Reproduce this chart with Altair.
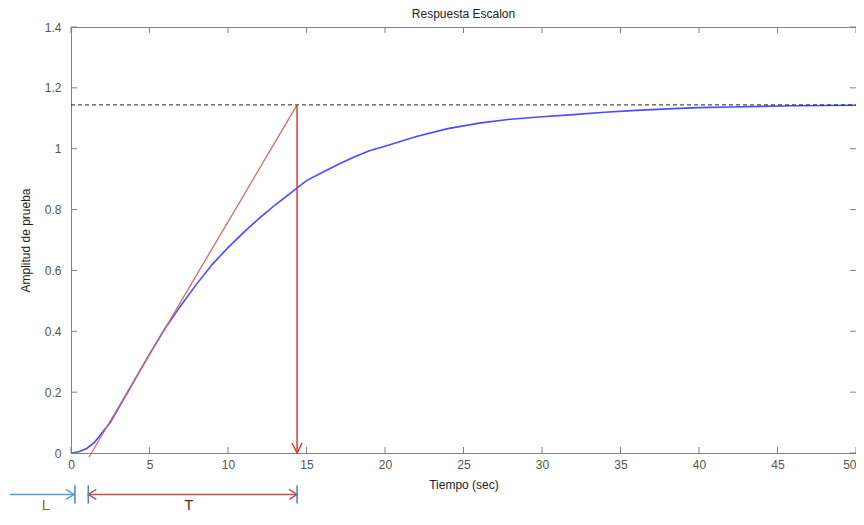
import altair as alt
import pandas as pd

# Step response
t = [0, 0.5, 1, 1.5, 2, 2.5, 3, 4, 5, 6, 7, 8, 9, 10, 11, 12, 13, 14, 15, 16,
     17, 18, 19, 20, 22, 24, 26, 28, 30, 32, 34, 36, 38, 40, 42, 44, 46, 48, 50]
amp = [0, 0.004, 0.015, 0.035, 0.068, 0.10, 0.145, 0.235, 0.325, 0.41, 0.485,
       0.555, 0.62, 0.675, 0.725, 0.772, 0.815, 0.855, 0.895, 0.922, 0.948,
       0.972, 0.993, 1.008, 1.04, 1.066, 1.084, 1.097, 1.105, 1.112, 1.12,
       1.126, 1.131, 1.135, 1.137, 1.139, 1.141, 1.142, 1.143]

steady = 1.144
tan_x = [1.15, 14.4]
tan_y = [-0.013, 1.144]
vert_x = 14.4

# annotation below the axis (data units)
ann_y = -0.136
L_x = [-3.9, 0.19]
T_x = [1.10, 14.4]
bar_x = [0.25, 1.10, 14.4]
bar_y = [-0.106, -0.166]
lab_text = ["L", "T"]
lab_x = [-1.6, 7.5]
lab_y = -0.172

x_ticks = list(range(0, 51, 5))
y_ticks = [0, 0.2, 0.4, 0.6, 0.8, 1.0, 1.2, 1.4]

W, H = 785, 426
FONT = "Liberation Sans"
xs = alt.Scale(domain=[0, 50], nice=False, zero=False)
ys = alt.Scale(domain=[0, 1.4], nice=False, zero=False)
xax = alt.Axis(values=x_ticks, title="Tiempo (sec)", labelPadding=6, titlePadding=9,
               labelAlign={"condition": {"test": "datum.value == 50", "value": "right"},
                           "value": "center"})
yax = alt.Axis(values=y_ticks, format="~g", title="Amplitud de prueba",
               labelPadding=10, titlePadding=12)


def X(f):
    return alt.X(f, scale=xs, axis=xax)


def Y(f):
    return alt.Y(f, scale=ys, axis=yax)


curve = alt.Chart(pd.DataFrame({"t": t, "a": amp})).mark_line(
    color="#4b4bff", strokeWidth=1.6).encode(x=X("t:Q"), y=Y("a:Q"))

dash = alt.Chart(pd.DataFrame({"x0": [0], "x1": [50], "y": [steady]})).mark_rule(
    color="#222", strokeDash=[4, 3], strokeWidth=1).encode(
    x=X("x0:Q"), x2="x1:Q", y=Y("y:Q"))

tangent = alt.Chart(pd.DataFrame({"x": tan_x, "y": tan_y})).mark_line(
    color="#d46a6a", strokeWidth=1.3).encode(x=X("x:Q"), y=Y("y:Q"))

vert = alt.Chart(pd.DataFrame({"x": [vert_x], "y0": [steady], "y1": [0]})).mark_rule(
    color="#d03c3c", strokeWidth=1.5).encode(x=X("x:Q"), y=Y("y0:Q"), y2="y1:Q")

vhead = alt.Chart(pd.DataFrame({"x": [vert_x], "y": [0]})).mark_point(
    shape="M-1,-2L0,0L1,-2", filled=False, size=100, color="#d03c3c",
    strokeWidth=1.5, opacity=1).encode(x=X("x:Q"), y=Y("y:Q"))

Larrow = alt.Chart(pd.DataFrame({"x0": [L_x[0]], "x1": [L_x[1]], "y": [ann_y]})).mark_rule(
    color="#5b9bd5", strokeWidth=1.5).encode(x=X("x0:Q"), x2="x1:Q", y=Y("y:Q"))
Lhead = alt.Chart(pd.DataFrame({"x": [L_x[1]], "y": [ann_y]})).mark_point(
    shape="M-1.6,-1L0,0L-1.6,1", filled=False, size=100, color="#5b9bd5",
    strokeWidth=1.5, opacity=1).encode(x=X("x:Q"), y=Y("y:Q"))

Tarrow = alt.Chart(pd.DataFrame({"x0": [T_x[0]], "x1": [T_x[1]], "y": [ann_y]})).mark_rule(
    color="#c0504d", strokeWidth=1.5).encode(x=X("x0:Q"), x2="x1:Q", y=Y("y:Q"))
Thead_r = alt.Chart(pd.DataFrame({"x": [T_x[1]], "y": [ann_y]})).mark_point(
    shape="M-1.6,-1L0,0L-1.6,1", filled=False, size=100, color="#c0504d",
    strokeWidth=1.5, opacity=1).encode(x=X("x:Q"), y=Y("y:Q"))
Thead_l = alt.Chart(pd.DataFrame({"x": [T_x[0]], "y": [ann_y]})).mark_point(
    shape="M1.6,-1L0,0L1.6,1", filled=False, size=100, color="#c0504d",
    strokeWidth=1.5, opacity=1).encode(x=X("x:Q"), y=Y("y:Q"))

bars = alt.Chart(pd.DataFrame({"x": bar_x, "y0": [bar_y[0]] * 3, "y1": [bar_y[1]] * 3})).mark_rule(
    color="#4f81bd", strokeWidth=1.5).encode(x=X("x:Q"), y=Y("y0:Q"), y2="y1:Q")

labels = alt.Chart(pd.DataFrame({"x": lab_x, "y": [lab_y] * 2, "s": lab_text,
                                 "c": ["#9c6a1e", "#6b1f1f"]})).mark_text(
    font=FONT, fontSize=15, align="center", baseline="middle").encode(
    x=X("x:Q"), y=Y("y:Q"), text="s:N", color=alt.Color("c:N", scale=None))

# inward ticks on all four sides (MATLAB box style)
tick_col = "#808080"
xt = pd.DataFrame({"x": x_ticks})
yt = pd.DataFrame({"y": y_ticks})
tb = alt.Chart(xt).mark_rule(color=tick_col).encode(
    x=X("x:Q"), y=alt.value(H), y2=alt.value(H - 6))
tt = alt.Chart(xt).mark_rule(color=tick_col).encode(
    x=X("x:Q"), y=alt.value(0), y2=alt.value(6))
tl = alt.Chart(yt).mark_rule(color=tick_col).encode(
    y=Y("y:Q"), x=alt.value(0), x2=alt.value(6))
tr = alt.Chart(yt).mark_rule(color=tick_col).encode(
    y=Y("y:Q"), x=alt.value(W), x2=alt.value(W - 6))

chart = alt.layer(
    curve, dash, tangent, vert, vhead, Larrow, Lhead, Tarrow, Thead_r, Thead_l,
    bars, labels, tb, tt, tl, tr
).properties(
    width=W, height=H,
    autosize=alt.AutoSizeParams(type="none"),
    padding={"left": 63, "top": 19, "right": 0, "bottom": 59},
    title=alt.TitleParams("Respuesta Escalon", font=FONT, fontSize=12,
                          fontWeight="normal", color="#222", offset=0, anchor="middle"),
).configure_view(stroke="#808080", strokeWidth=1).configure_axis(
    domain=False, ticks=False, grid=False,
    labelFont=FONT, labelFontSize=12, labelColor="#555",
    titleFont=FONT, titleFontSize=12, titleFontWeight="normal", titleColor="#222",
)

chart.save("out.html", embed_options={"renderer": "svg", "actions": False})
